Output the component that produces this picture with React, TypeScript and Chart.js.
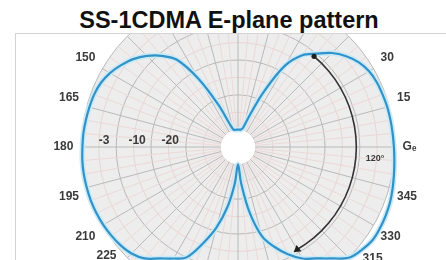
import React, { useEffect, useRef } from 'react';
import { Chart, registerables } from 'chart.js';

Chart.register(...registerables);

// Polar angles (degrees, 0 = right, counter-clockwise), one every 5 degrees
const ANGLES = [
  0, 5, 10, 15, 20, 25, 30, 35, 40, 45, 50, 55, 60, 65, 70, 75, 80, 85,
  90, 95, 100, 105, 110, 115, 120, 125, 130, 135, 140, 145, 150, 155, 160, 165, 170, 175,
  180, 185, 190, 195, 200, 205, 210, 215, 220, 225, 230, 235, 240, 245, 250, 255, 260, 265,
  270, 275, 280, 285, 290, 295, 300, 305, 310, 315, 320, 325, 330, 335, 340, 345, 350, 355,
];

// Relative pattern level at each angle (grid units; 0 = edge of centre hole, 4 = outer ring)
const PATTERN = [
  3.98, 3.96, 3.95, 3.94, 3.92, 3.9, 3.85, 3.74, 3.56, 3.32, 3.0, 2.72, 2.2, 1.25, 0.45, 0.08, 0.01, 0,
  0, 0, 0, 0.02, 0.22, 0.85, 1.75, 2.56, 2.92, 3.2, 3.43, 3.6, 3.75, 3.85, 3.9, 3.92, 3.94, 3.96,
  3.97, 3.99, 4.0, 4.0, 4.0, 3.99, 3.97, 3.94, 3.9, 3.83, 3.68, 3.41, 3.2, 3.0, 2.45, 1.9, 1.25, 0.55,
  0, 0.55, 1.4, 2.15, 2.55, 2.9, 3.2, 3.41, 3.68, 4.0, 4.12, 4.2, 4.2, 4.18, 4.15, 4.1, 4.05, 4.01,
];

// Angle labels shown around the plot and the spoke they sit on
const ANGLE_LABEL_TEXT = ['150', '165', '180', '195', '210', '225', '30', '15', 'G\u2091', '345', '330', '315'];
const ANGLE_LABEL_SLOT = [150, 165, 180, 195, 210, 220, 30, 15, 0, 345, 330, 320];

// Level ring labels (dB) and the level they are written at
const RING_LABEL_TEXT = ['-3', '-10', '-20'];
const RING_LABEL_LEVEL = [3.35, 2.4, 1.45];

// 120 degree beamwidth arc
const ARC_FROM = 50;
const ARC_TO = 300;
const ARC_LEVEL = 2.9;
const ARC_TEXT = '120\u00b0';
const ARC_TEXT_SLOT = 355;
const ARC_TEXT_LEVEL = 3.45;

const TITLE = 'SS-1CDMA E-plane pattern';

const FONT = 'Arial, "Liberation Sans", sans-serif';

// radar slots run clockwise starting at the left (180 deg)
const N = ANGLES.length;
const SLOT_ANGLE = ANGLES.map((_, i) => ANGLES[(N / 2 - i + N) % N]);
const slotOf = (angle: number) => SLOT_ANGLE.indexOf(angle);

const patternData = SLOT_ANGLE.map((a) => PATTERN[ANGLES.indexOf(a)]);
const arcStart = slotOf(ARC_FROM);
const arcEnd = slotOf(ARC_TO);
const arcData = SLOT_ANGLE.map((_, i) => (i >= arcStart && i <= arcEnd ? ARC_LEVEL : null));

const isMajor = (v: number) => Math.abs(v - Math.round(v)) < 1e-6;

const overlayPlugin = {
  id: 'overlay',
  beforeDatasetsDraw(chart: any) {
    const s = chart.scales.r;
    const ctx = chart.ctx;
    ctx.save();
    ctx.fillStyle = '#ffffff';
    ctx.beginPath();
    ctx.arc(s.xCenter, s.yCenter, s.getDistanceFromCenterForValue(0), 0, Math.PI * 2);
    ctx.fill();
    ctx.fillStyle = '#3a3a3a';
    ctx.font = `bold 12px ${FONT}`;
    ctx.textAlign = 'center';
    ctx.textBaseline = 'middle';
    const left = slotOf(180);
    RING_LABEL_TEXT.forEach((t, k) => {
      const p = s.getPointPositionForValue(left, RING_LABEL_LEVEL[k]);
      ctx.fillText(t, p.x, p.y - 6);
    });
    ctx.font = `bold 9px ${FONT}`;
    const p = s.getPointPositionForValue(slotOf(ARC_TEXT_SLOT), ARC_TEXT_LEVEL);
    ctx.fillText(ARC_TEXT, p.x, p.y);
    ctx.restore();
  },
};

export default function App() {
  const ref = useRef<HTMLCanvasElement>(null);
  useEffect(() => {
    if (!ref.current) return;
    Chart.defaults.font.family = FONT;
    const chart = new Chart(ref.current, {
      type: 'radar',
      data: {
        labels: SLOT_ANGLE.map((a) => String(a)),
        datasets: [
          {
            label: 'beamwidth',
            data: arcData as any,
            borderColor: '#333333',
            borderWidth: 1.6,
            tension: 0,
            fill: false,
            spanGaps: false,
            pointRadius: (c: any) => (c.dataIndex === arcStart ? 2.6 : c.dataIndex === arcEnd ? 4.5 : 0),
            pointStyle: (c: any) => (c.dataIndex === arcEnd ? 'triangle' : 'circle'),
            pointRotation: (c: any) => (c.dataIndex === arcEnd ? 232 : 0),
            pointBackgroundColor: '#1e1e1e',
            pointBorderColor: '#1e1e1e',
            pointBorderWidth: 0,
          },
          {
            label: 'E-plane',
            data: patternData,
            borderColor: '#3092c8',
            borderWidth: 2.2,
            tension: 0.35,
            fill: false,
            pointRadius: 0,
          },
          {
            label: 'halo',
            data: patternData,
            borderColor: '#cbeaf7',
            borderWidth: 5.5,
            tension: 0.35,
            fill: false,
            pointRadius: 0,
          },
        ],
      },
      options: {
        animation: false,
        responsive: false,
        events: [],
        layout: { padding: 0 },
        plugins: { legend: { display: false }, tooltip: { enabled: false }, title: { display: false } },
        scales: {
          r: {
            min: -0.5,
            max: 4,
            startAngle: -90,
            backgroundColor: '#ededed',
            ticks: { display: false, stepSize: 0.5 },
            grid: {
              circular: true,
              lineWidth: 1,
              color: (c: any) => (isMajor(c.tick.value) ? '#b8b8b8' : '#ead5d5'),
            },
            angleLines: {
              display: true,
              lineWidth: 1,
              color: (c: any) => (SLOT_ANGLE[c.index] % 15 === 0 ? '#bababa' : '#ecd9d9'),
            },
            pointLabels: {
              display: true,
              padding: (c: any) => {
                const a = SLOT_ANGLE[c.index];
                return a === 220 ? 2 : a === 320 ? 6 : 8;
              },
              color: '#3a3a3a',
              font: { size: 12, weight: 'bold', family: FONT, lineHeight: 1.2 },
              callback: (_l: any, i: number) => {
                const k = ANGLE_LABEL_SLOT.indexOf(SLOT_ANGLE[i]);
                return k >= 0 ? ANGLE_LABEL_TEXT[k] : '';
              },
            },
          },
        },
      } as any,
      plugins: [overlayPlugin],
    });
    return () => chart.destroy();
  }, []);

  return (
    <div style={{ position: 'fixed', left: 0, top: 0, width: 446, height: 260, background: '#fff', overflow: 'hidden' }}>
      <div
        style={{
          position: 'absolute',
          left: 0,
          top: 8,
          width: 458,
          textAlign: 'center',
          font: `bold 23.5px ${FONT}`,
          lineHeight: '24px',
          color: '#111',
          whiteSpace: 'nowrap',
        }}
      >
        {TITLE}
      </div>
      <div
        style={{
          position: 'absolute',
          left: 15,
          top: 33,
          width: 470,
          height: 260,
          border: '1px solid #d3d3d3',
          overflow: 'hidden',
          background: '#fff',
        }}
      >
        <canvas
          ref={ref}
          width={560}
          height={358}
          style={{ position: 'absolute', left: -58, top: -66, width: 560, height: 358 }}
        />
      </div>
    </div>
  );
}
